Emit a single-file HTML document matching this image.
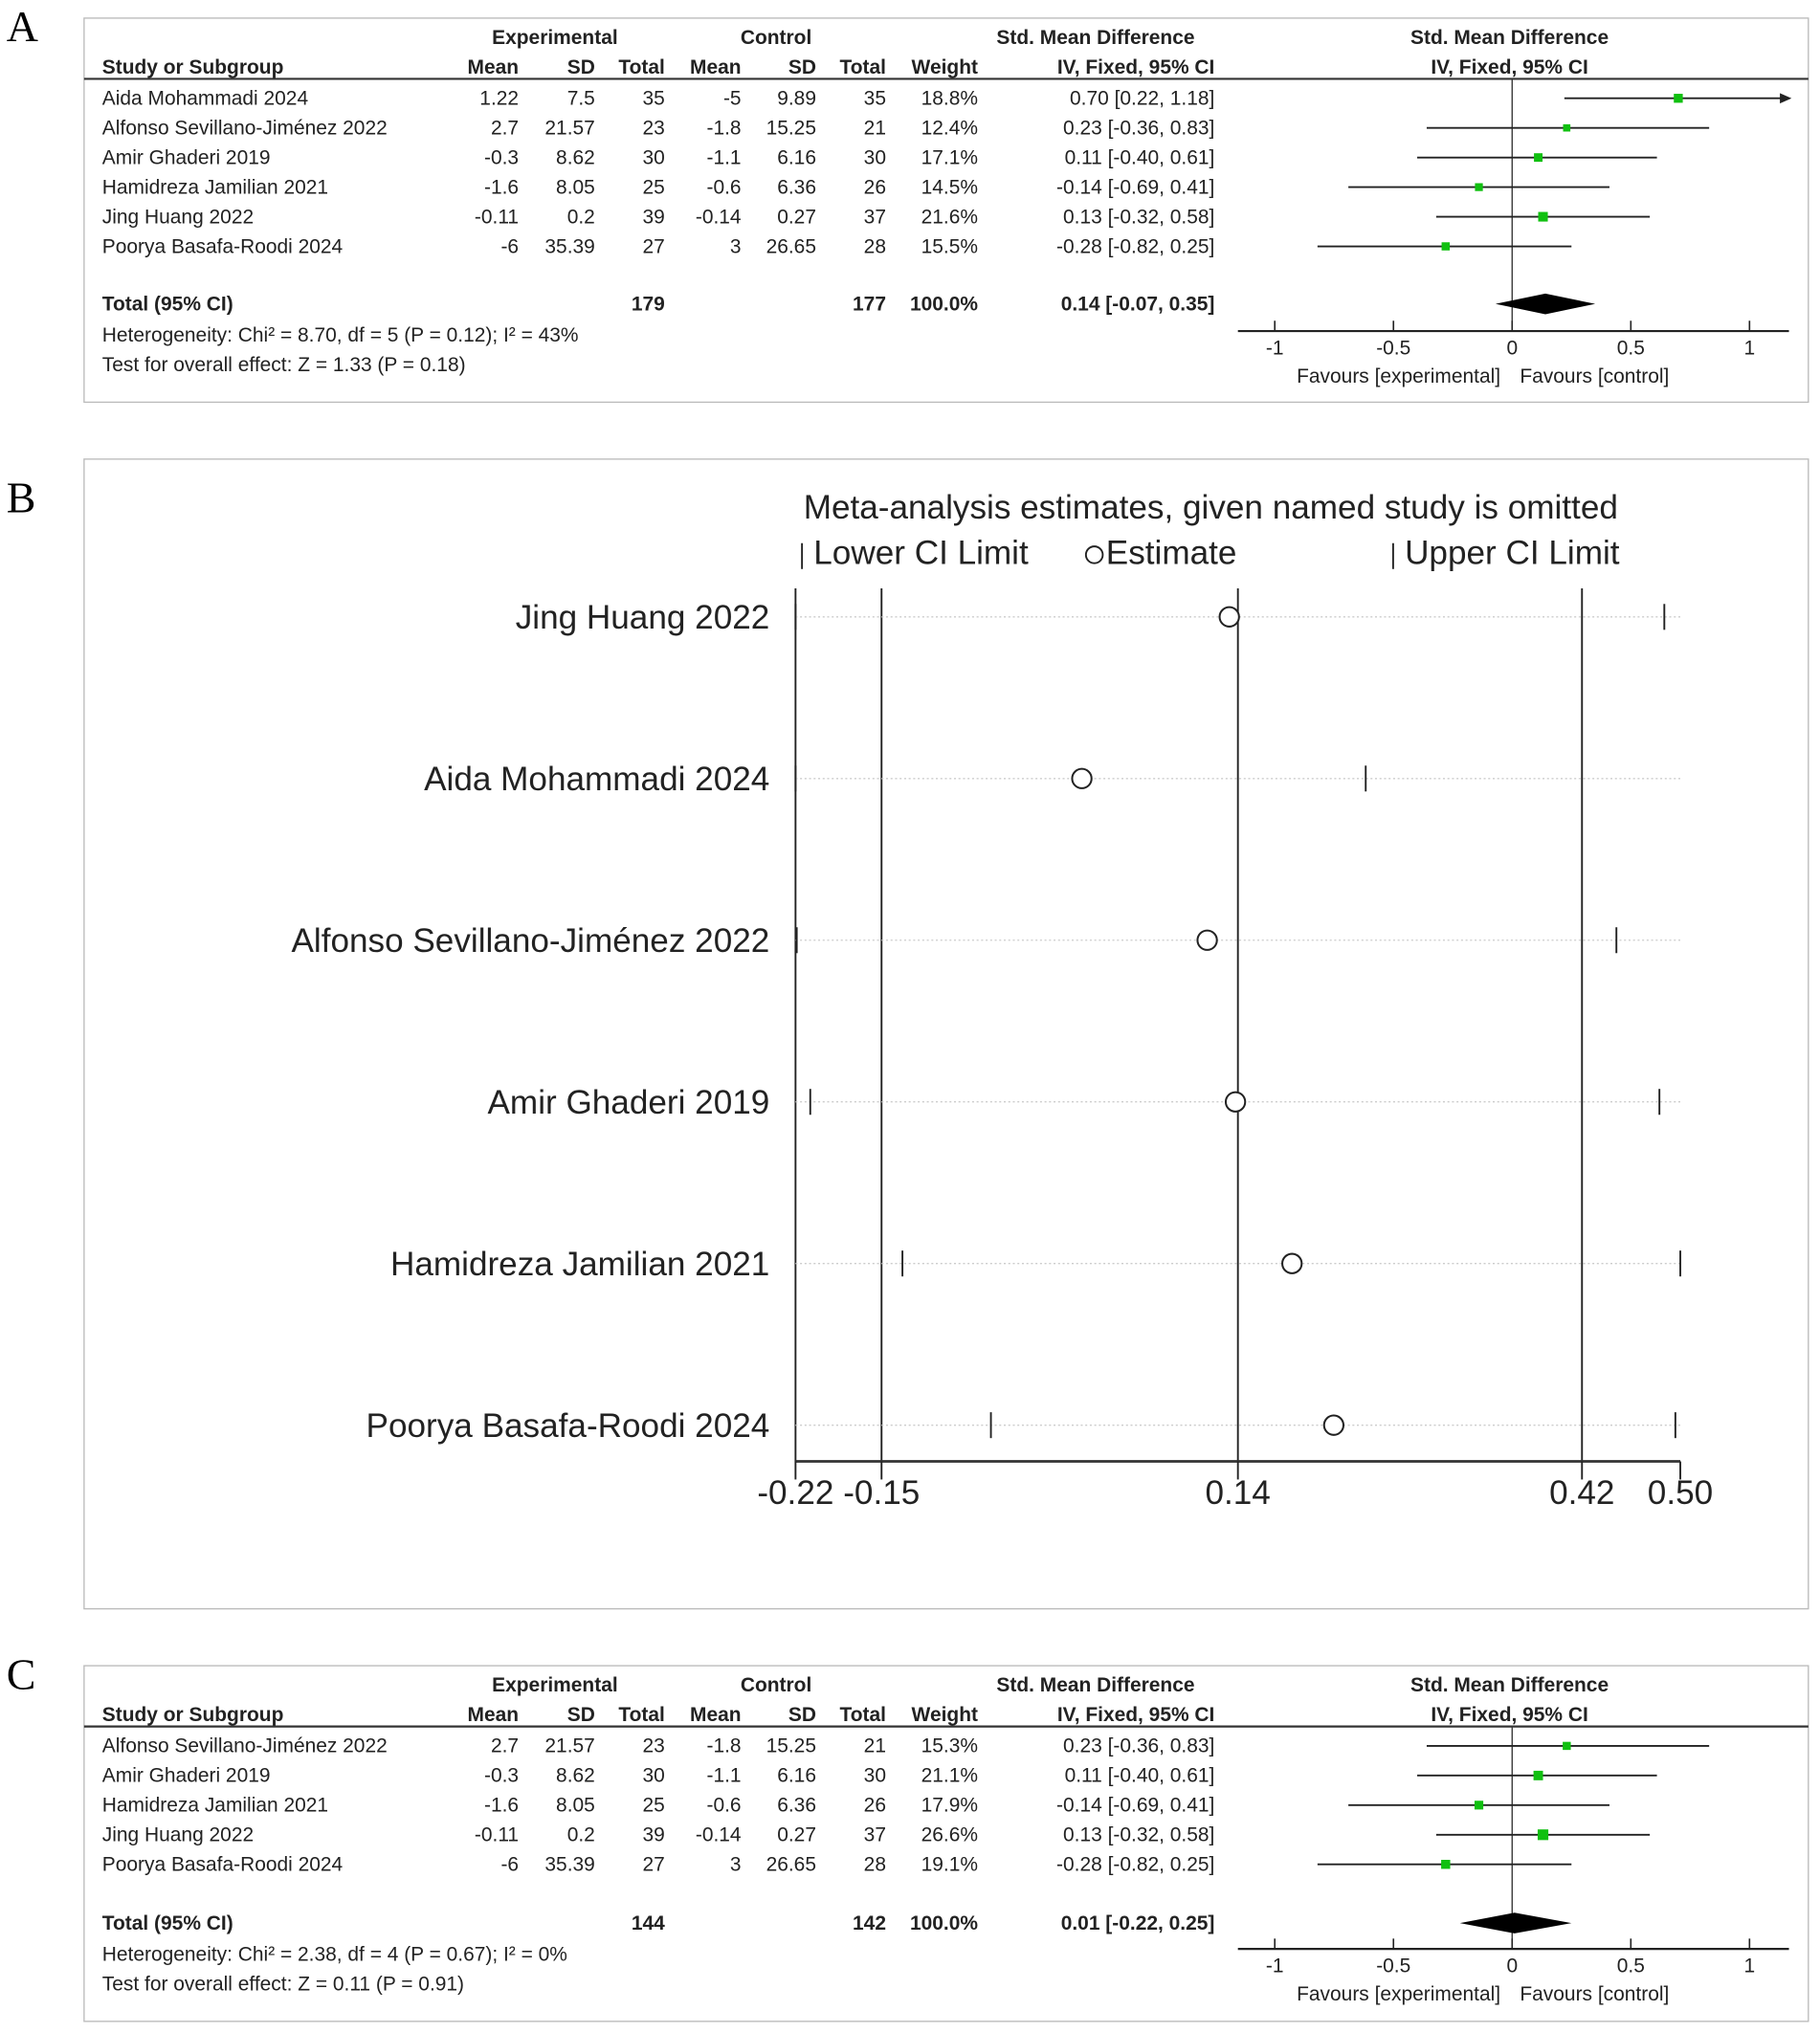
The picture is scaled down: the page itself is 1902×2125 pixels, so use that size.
<!DOCTYPE html>
<html><head><meta charset="utf-8">
<style>
html,body{margin:0;padding:0;background:#fff;}
svg{display:block;}
.n{font-family:"Liberation Sans Narrow","Liberation Sans",sans-serif;font-size:15.5px;fill:#222;}
.b{font-weight:bold;}
.s{font-family:"Liberation Sans",sans-serif;font-size:26px;fill:#222;}
.pl{font-family:"Liberation Serif",serif;font-size:34px;fill:#000;}
</style></head>
<body>
<svg id="fig" width="1902" height="2125" viewBox="0 0 1407 1572" preserveAspectRatio="none" xmlns="http://www.w3.org/2000/svg">
</svg>
<script>
// ---- Panel A data ----
const studiesA = ["Aida Mohammadi 2024","Alfonso Sevillano-Jiménez 2022","Amir Ghaderi 2019","Hamidreza Jamilian 2021","Jing Huang 2022","Poorya Basafa-Roodi 2024"];
const expMeanA = ["1.22","2.7","-0.3","-1.6","-0.11","-6"];
const expSdA = ["7.5","21.57","8.62","8.05","0.2","35.39"];
const expNA = ["35","23","30","25","39","27"];
const ctlMeanA = ["-5","-1.8","-1.1","-0.6","-0.14","3"];
const ctlSdA = ["9.89","15.25","6.16","6.36","0.27","26.65"];
const ctlNA = ["35","21","30","26","37","28"];
const weightA = [18.8,12.4,17.1,14.5,21.6,15.5];
const smdA = [0.70,0.23,0.11,-0.14,0.13,-0.28];
const lowA = [0.22,-0.36,-0.40,-0.69,-0.32,-0.82];
const highA = [1.18,0.83,0.61,0.41,0.58,0.25];
const totalA = {est:0.14, lo:-0.07, hi:0.35, nE:"179", nC:"177", het:"Heterogeneity: Chi² = 8.70, df = 5 (P = 0.12); I² = 43%", z:"Test for overall effect: Z = 1.33 (P = 0.18)"};

// ---- Panel C data ----
const studiesC = ["Alfonso Sevillano-Jiménez 2022","Amir Ghaderi 2019","Hamidreza Jamilian 2021","Jing Huang 2022","Poorya Basafa-Roodi 2024"];
const expMeanC = ["2.7","-0.3","-1.6","-0.11","-6"];
const expSdC = ["21.57","8.62","8.05","0.2","35.39"];
const expNC = ["23","30","25","39","27"];
const ctlMeanC = ["-1.8","-1.1","-0.6","-0.14","3"];
const ctlSdC = ["15.25","6.16","6.36","0.27","26.65"];
const ctlNC = ["21","30","26","37","28"];
const weightC = [15.3,21.1,17.9,26.6,19.1];
const smdC = [0.23,0.11,-0.14,0.13,-0.28];
const lowC = [-0.36,-0.40,-0.69,-0.32,-0.82];
const highC = [0.83,0.61,0.41,0.58,0.25];
const totalC = {est:0.01, lo:-0.22, hi:0.25, nE:"144", nC:"142", het:"Heterogeneity: Chi² = 2.38, df = 4 (P = 0.67); I² = 0%", z:"Test for overall effect: Z = 0.11 (P = 0.91)"};

const forestTicks = [-1,-0.5,0,0.5,1];
const forestTickLabels = ["-1","-0.5","0","0.5","1"];

// ---- Panel B data ----
const studiesB = ["Jing Huang 2022","Aida Mohammadi 2024","Alfonso Sevillano-Jiménez 2022","Amir Ghaderi 2019","Hamidreza Jamilian 2021","Poorya Basafa-Roodi 2024"];
const estB = [0.133,0.013,0.115,0.138,0.184,0.218];
const lowB = [-0.22,-0.22,-0.219,-0.208,-0.133,-0.061];
const highB = [0.487,0.244,0.448,0.483,0.50,0.496];
const ticksB = [-0.22,-0.15,0.14,0.42,0.50];
const tickLabelsB = ["-0.22","-0.15","0.14","0.42","0.50"];
const refLinesB = [-0.22,-0.15,0.14,0.42];

const NS="http://www.w3.org/2000/svg";
const svg=document.getElementById('fig');
function el(tag,attrs,parent){const e=document.createElementNS(NS,tag);for(const k in attrs)e.setAttribute(k,attrs[k]);(parent||svg).appendChild(e);return e;}
function txt(s,x,y,cls,anchor,parent){const t=el('text',{x:x,y:y,class:cls,'text-anchor':anchor||'start'},parent);t.textContent=s;return t;}

function forestPanel(top,letter,studies,eM,eS,eN,cM,cS,cN,w,smd,lo,hi,tot,name){
  const g=el('g',{});
  
  
  const L=txt(letter,5,top+18,'pl','start',g);
  
  
  const box=el('rect',{x:65,y:top,width:1333,height:top===14?297:275,fill:'none',stroke:'#bbb','stroke-width':1},g);
  
  
  const h1=top+20,h2=top+43;
  txt('Experimental',429,h1,'n b','middle',g);
  txt('Control',600,h1,'n b','middle',g);
  txt('Std. Mean Difference',847,h1,'n b','middle',g);
  txt('Std. Mean Difference',1167,h1,'n b','middle',g);
  txt('Study or Subgroup',79,h2,'n b','start',g);
  const cols=[401,460,514,573,631,685,756,939];
  ['Mean','SD','Total','Mean','SD','Total','Weight','IV, Fixed, 95% CI'].forEach((s,i)=>txt(s,cols[i],h2,'n b','end',g));
  txt('IV, Fixed, 95% CI',1167,h2,'n b','middle',g);
  const hl=el('line',{x1:65,x2:1398,y1:top+47,y2:top+47,stroke:'#333','stroke-width':1.6},g);
  
  
  const X=v=>1169+v*183.5;
  const axL=957,axR=1383;
  const rowY=i=>top+62+i*22.9;
  const nr=studies.length;
  const tY=top+(nr===6?226:204);
  const ay=tY+(nr===6?16:15);
  const zl=el('line',{x1:X(0),x2:X(0),y1:top+47,y2:ay,stroke:'#333','stroke-width':1},g);
  
  
  studies.forEach((s,i)=>{
    const y=rowY(i);
    const r=el('g',{},g);
    
    
    txt(s,79,y+5,'n','start',r);
    [eM[i],eS[i],eN[i],cM[i],cS[i],cN[i],w[i].toFixed(1)+'%',
     smd[i].toFixed(2)+' ['+lo[i].toFixed(2)+', '+hi[i].toFixed(2)+']'].forEach((v,j)=>txt(v,cols[j],y+5,'n','end',r));
    const x1=Math.max(X(lo[i]),axL),x2r=X(hi[i]);
    const x2=Math.min(x2r,axR);
    const ci=el('line',{x1:x1,x2:x2,y1:y,y2:y,stroke:'#222','stroke-width':1.4},r);
    
    
    if(x2r>axR){
      const ar=el('path',{d:`M${axR+2},${y} L${axR-7},${y-4} L${axR-7},${y+4} Z`,fill:'#222'},r);
      
      
    }
    const sz=Math.sqrt(w[i])*1.6;
    const sq=el('rect',{x:X(smd[i])-sz/2,y:y-sz/2,width:sz,height:sz,fill:'#10c010'},r);
    
    
  });
  txt('Total (95% CI)',79,tY,'n b','start',g);
  txt(tot.nE,cols[2],tY,'n b','end',g);
  txt(tot.nC,cols[5],tY,'n b','end',g);
  txt('100.0%',cols[6],tY,'n b','end',g);
  txt(tot.est.toFixed(2)+' ['+tot.lo.toFixed(2)+', '+tot.hi.toFixed(2)+']',cols[7],tY,'n b','end',g);
  txt(tot.het,79,tY+24,'n','start',g);
  txt(tot.z,79,tY+47,'n','start',g);
  const dy=tY-5;
  const dm=el('path',{d:`M${X(tot.lo)},${dy} L${X(tot.est)},${dy-8} L${X(tot.hi)},${dy} L${X(tot.est)},${dy+8} Z`,fill:'#000'},g);
  
  
  const ax=el('line',{x1:axL,x2:axR,y1:ay,y2:ay,stroke:'#222','stroke-width':1.6},g);
  
  
  forestTicks.forEach((t,i)=>{
    el('line',{x1:X(t),x2:X(t),y1:ay-8,y2:ay,stroke:'#222','stroke-width':1.2},g);
    const tl=txt(forestTickLabels[i],X(t),ay+18,'n','middle',g);
    
    
  });
  txt('Favours [experimental]',1160,ay+40,'n','end',g).setAttribute('fill','#444');
  txt('Favours [control]',1175,ay+40,'n','start',g);
}

forestPanel(14,'A',studiesA,expMeanA,expSdA,expNA,ctlMeanA,ctlSdA,ctlNA,weightA,smdA,lowA,highA,totalA,'panel-a-forest-plot');
forestPanel(1288,'C',studiesC,expMeanC,expSdC,expNC,ctlMeanC,ctlSdC,ctlNC,weightC,smdC,lowC,highC,totalC,'panel-c-forest-plot');

// ---- Panel B ----
(function(){
  const g=el('g',{});
  
  
  const L=txt('B',5,396,'pl','start',g);
  
  
  const box=el('rect',{x:65,y:355,width:1333,height:889,fill:'none',stroke:'#bbb','stroke-width':1},g);
  
  
  const X=v=>615+(v+0.22)*(1299-615)/0.72;
  const t=txt('Meta-analysis estimates, given named study is omitted',936,401,'s','middle',g);
  
  
  const lg=el('g',{},g);
  
  
  el('line',{x1:620,x2:620,y1:420,y2:440,stroke:'#222','stroke-width':1.4},lg);
  txt('Lower CI Limit',629,436,'s','start',lg);
  el('circle',{cx:846,cy:429,r:6.5,fill:'none',stroke:'#222','stroke-width':1.4},lg);
  txt('Estimate',855,436,'s','start',lg);
  el('line',{x1:1077,x2:1077,y1:420,y2:440,stroke:'#222','stroke-width':1.4},lg);
  txt('Upper CI Limit',1086,436,'s','start',lg);
  const yTop=455,yAx=1130;
  refLinesB.forEach(v=>{
    const l=el('line',{x1:X(v),x2:X(v),y1:yTop,y2:yAx,stroke:'#222','stroke-width':1.4},g);
    
    
  });
  const ax=el('line',{x1:X(-0.22),x2:X(0.50),y1:yAx,y2:yAx,stroke:'#333','stroke-width':2},g);
  
  
  ticksB.forEach((v,i)=>{
    el('line',{x1:X(v),x2:X(v),y1:yAx,y2:yAx+14,stroke:'#222','stroke-width':1.4},g);
    const tl=txt(tickLabelsB[i],X(v),yAx+33,'s','middle',g);
    
    
  });
  studiesB.forEach((s,i)=>{
    const y=477+i*125;
    const r=el('g',{},g);
    
    
    const lab=txt(s,595,y+9,'s','end',r);
    
    
    el('line',{x1:X(-0.22),x2:X(0.50),y1:y,y2:y,stroke:'#ccc','stroke-width':1,'stroke-dasharray':'1.5,2'},r);
    const lo=el('line',{x1:X(lowB[i]),x2:X(lowB[i]),y1:y-10,y2:y+10,stroke:'#222','stroke-width':1.4},r);
    
    
    const hi=el('line',{x1:X(highB[i]),x2:X(highB[i]),y1:y-10,y2:y+10,stroke:'#222','stroke-width':1.4},r);
    
    
    const c=el('circle',{cx:X(estB[i]),cy:y,r:7.5,fill:'#fff',stroke:'#222','stroke-width':1.5},r);
    
    
  });
})();
</script>
</body></html>
